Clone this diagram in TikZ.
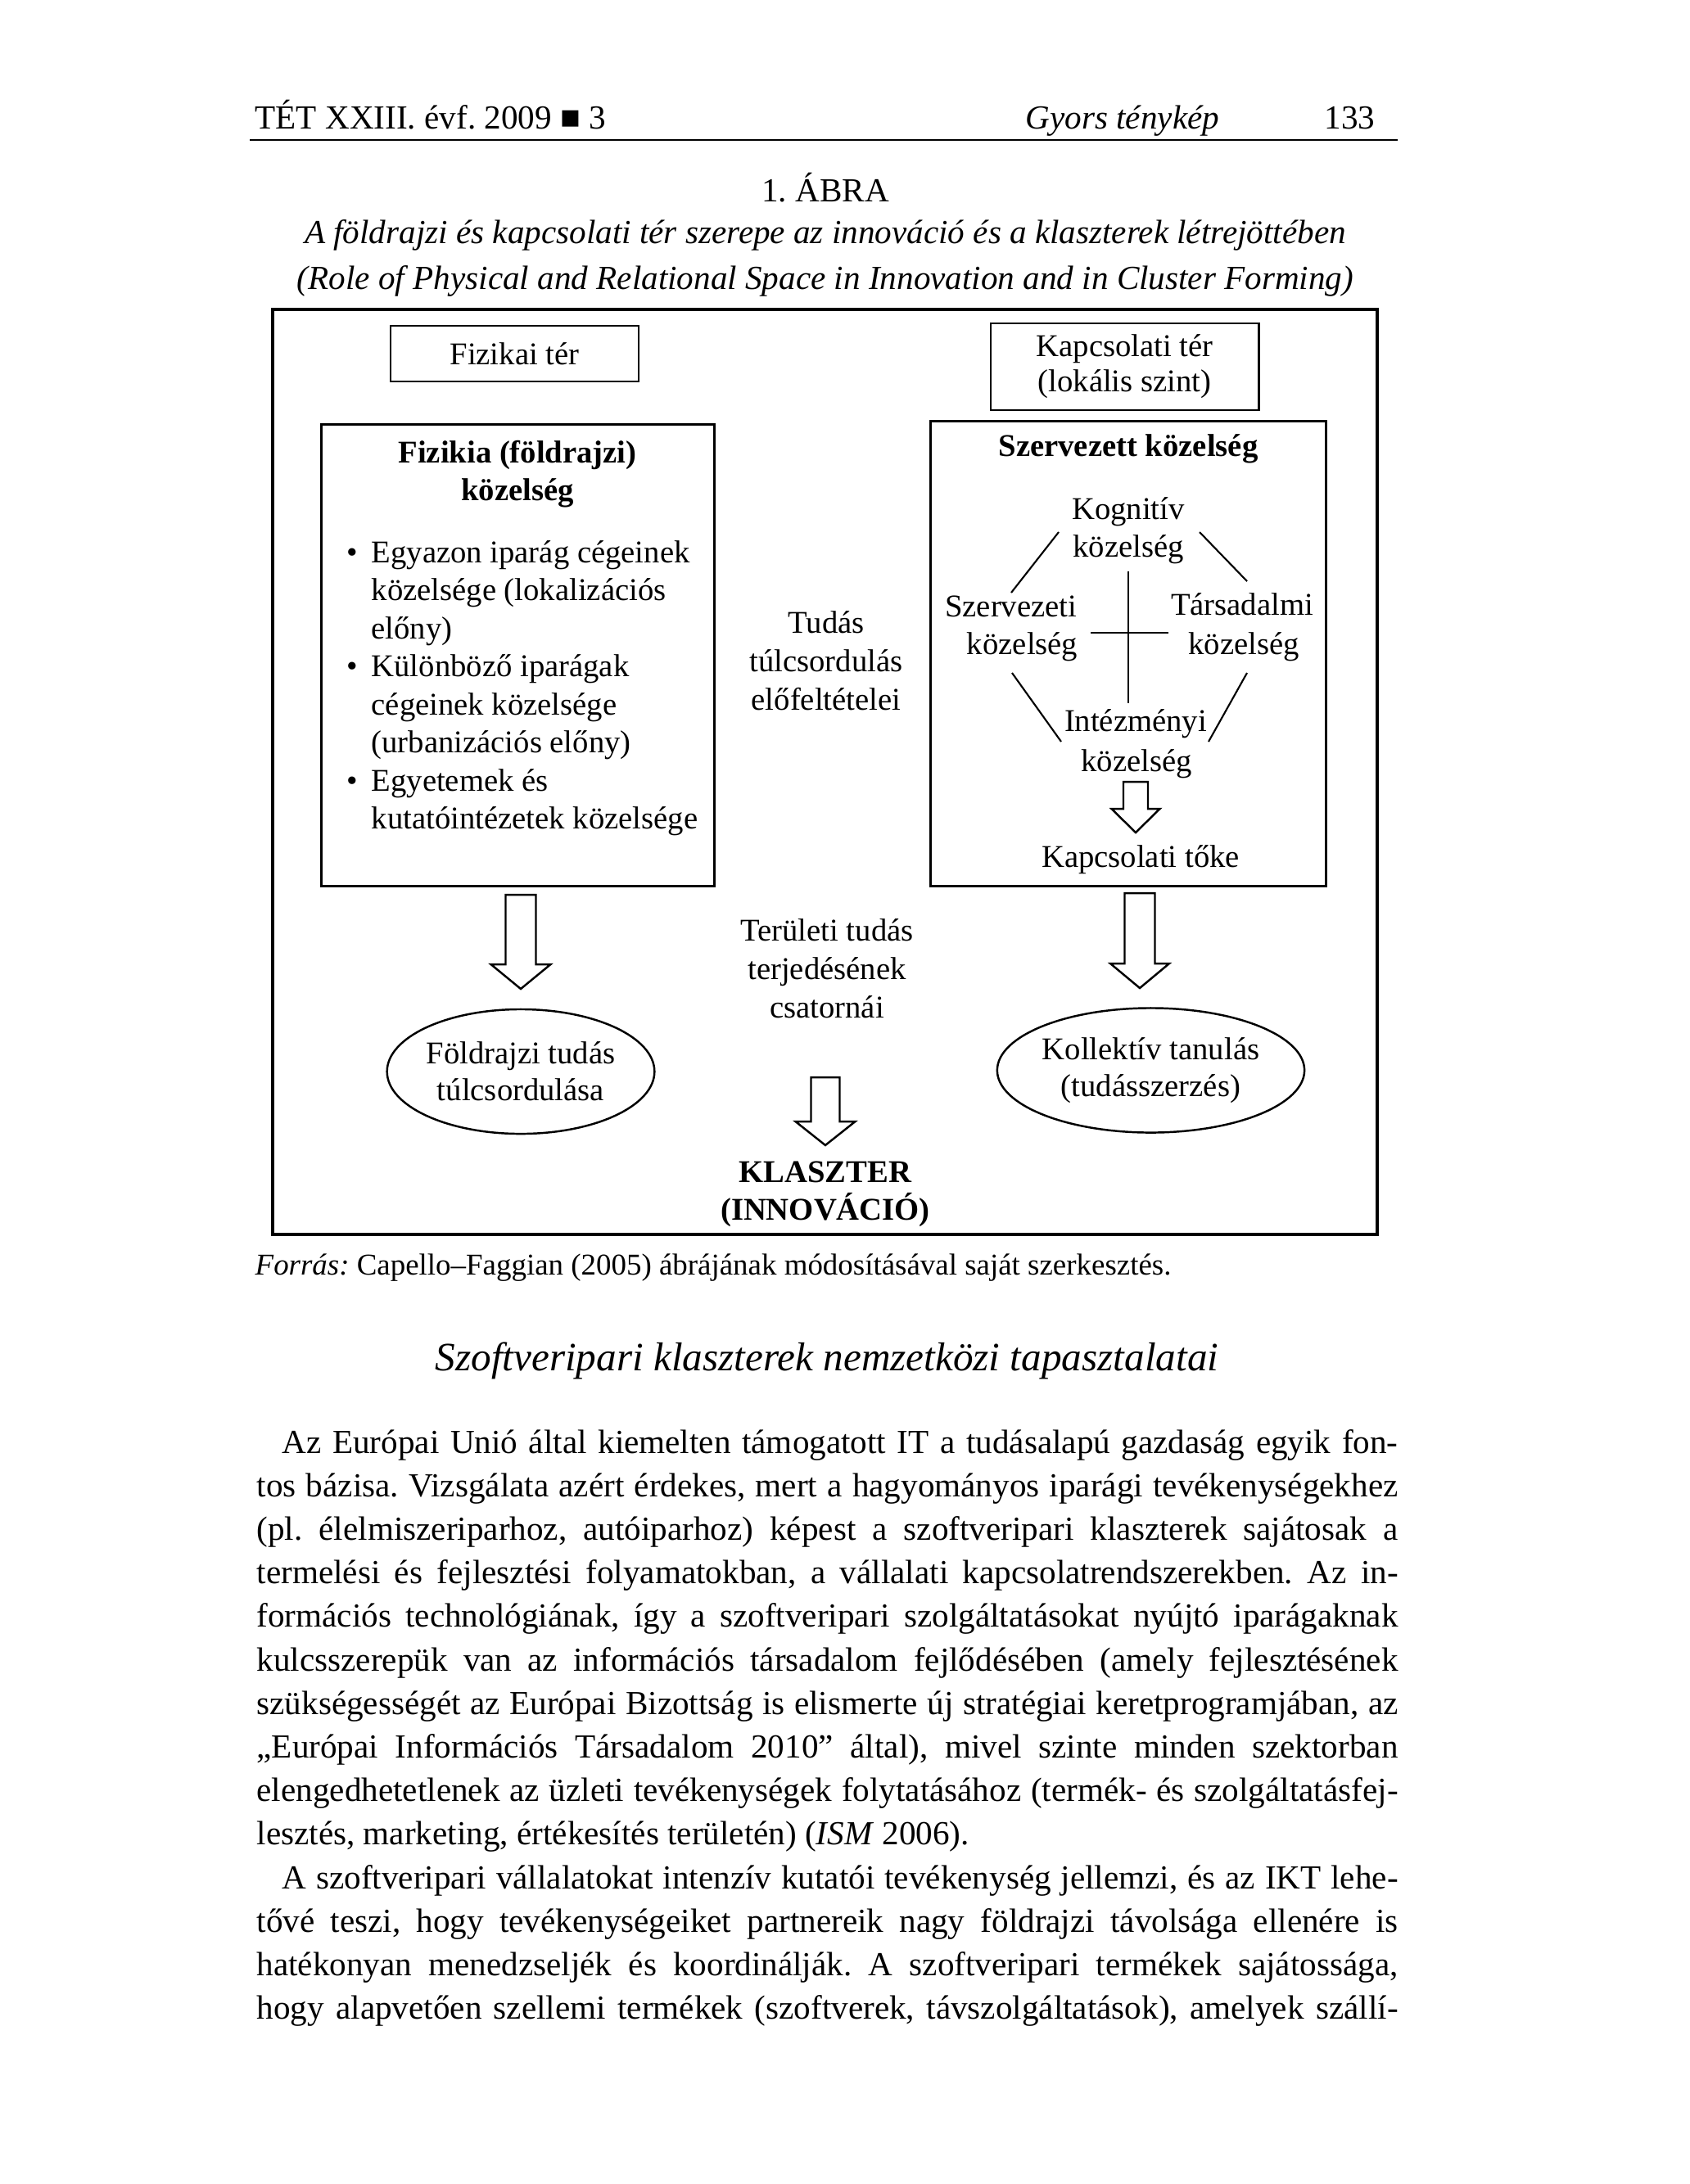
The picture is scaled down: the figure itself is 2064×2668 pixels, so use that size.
\documentclass[tikz,border=0pt]{standalone}
\usepackage{fontspec}
\setmainfont{Liberation Serif}
\usetikzlibrary{shapes.geometric}
\newcommand{\jstline}[2]{\makebox[#1][s]{#2}}
\frenchspacing
\begin{document}
\frenchspacing
\begin{tikzpicture}[x=0.01cm,y=-0.01cm,
  txt/.style={inner sep=0, anchor=base, font=\fontsize{11}{13}\selectfont},
  btxt/.style={inner sep=0, anchor=base, font=\fontsize{11}{13}\selectfont\bfseries},
  pagetxt/.style={inner sep=0, anchor=base, font=\fontsize{11.7}{14}\selectfont},
  bodyline/.style={inner sep=0, anchor=base west, font=\fontsize{11.7}{14}\selectfont},
  boxshape/.style={draw, line width=0.8pt, inner sep=0, rectangle},
  thinline/.style={line width=0.6pt},
  hollow/.style={draw, line width=0.7pt, fill=white, line join=miter},
  ell/.style={ellipse, draw, line width=0.7pt, inner sep=0, align=center,
    minimum width=3.14cm, minimum height=1.52cm, font=\fontsize{11}{12.8}\selectfont}]
\fill[white] (0,0) rectangle (2064,2668);
\useasboundingbox (0,0) rectangle (2064,2668);

% ---------- running head ----------
\node[pagetxt, anchor=base west] (hdrL) at (311,157) {TÉT XXIII. évf. 2009 ■ 3};
\node[pagetxt, anchor=base west, font=\fontsize{11.7}{14}\selectfont\itshape] (hdrM) at (1252,157) {Gyors ténykép};
\node[pagetxt, anchor=base east] (hdrR) at (1680,157) {133};
\draw[line width=0.8pt] (305,171) -- (1707,171);

% ---------- caption ----------
\node[pagetxt] (fignum) at (1008,246) {1. ÁBRA};
\node[pagetxt, font=\fontsize{11.7}{14}\selectfont\itshape] (cap1) at (1008,297) {A földrajzi és kapcsolati tér szerepe az innováció és a klaszterek létrejöttében};
\node[pagetxt, font=\fontsize{11.7}{14}\selectfont\itshape] (cap2) at (1008,353) {(Role of Physical and Relational Space in Innovation and in Cluster Forming)};

% ---------- frame ----------
\draw[line width=1pt] (333,378) rectangle (1682,1508);

% ---------- top boxes ----------
\node[boxshape, minimum width=3.03cm, minimum height=0.68cm, font=\fontsize{11}{13}\selectfont] (fizbox) at (628.5,432) {Fizikai tér};
\node[boxshape, minimum width=3.27cm, minimum height=1.06cm, align=center, font=\fontsize{11}{12.2}\selectfont] (kapbox) at (1373.5,448) {Kapcsolati tér\\(lokális szint)};

% ---------- big boxes ----------
\node[boxshape, minimum width=4.79cm, minimum height=5.63cm] (leftbox) at (632.5,800.5) {};
\node[boxshape, minimum width=4.82cm, minimum height=5.67cm] (rightbox) at (1378,798.5) {};

% left box content
\node[btxt] (lt1) at (632,565) {Fizikia (földrajzi)};
\node[btxt] (lt2) at (632,611) {közelség};
\node[txt, anchor=base west] (b1) at (453,687) {\llap{\textbullet\hspace{4.8pt}}Egyazon iparág cégeinek};
\node[txt, anchor=base west] (b2) at (453,733.5) {közelsége (lokalizációs};
\node[txt, anchor=base west] (b3) at (453,780) {előny)};
\node[txt, anchor=base west] (b4) at (453,826.5) {\llap{\textbullet\hspace{4.8pt}}Különböző iparágak};
\node[txt, anchor=base west] (b5) at (453,873) {cégeinek közelsége};
\node[txt, anchor=base west] (b6) at (453,919.5) {(urbanizációs előny)};
\node[txt, anchor=base west] (b7) at (453,966) {\llap{\textbullet\hspace{4.8pt}}Egyetemek és};
\node[txt, anchor=base west] (b8) at (453,1012.5) {kutatóintézetek közelsége};

% middle column
\node[txt] (tu1) at (1009,773) {Tudás};
\node[txt] (tu2) at (1009,820) {túlcsordulás};
\node[txt] (tu3) at (1009,867) {előfeltételei};

% right box content
\node[btxt] (rt) at (1378,557) {Szervezett közelség};
\node[txt] (kog1) at (1378,634) {Kognitív};
\node[txt] (kog2) at (1378,680) {közelség};
\node[txt, anchor=base east] (sz1) at (1316,753) {Szervezeti};
\node[txt, anchor=base east] (sz2) at (1317,799) {közelség};
\node[txt] (ta1) at (1517,751) {Társadalmi};
\node[txt] (ta2) at (1519,799) {közelség};
\node[txt] (in1) at (1387,893) {Intézményi};
\node[txt] (in2) at (1388,942) {közelség};
\node[txt] (ktoke) at (1393,1059) {Kapcsolati tőke};

\draw[thinline] (1293,650) -- (1235,724);
\draw[thinline] (1465,650) -- (1523,710);
\draw[thinline] (1236,822) -- (1296,906);
\draw[thinline] (1523,822) -- (1476,906);
\draw[thinline] (1378,698) -- (1378,859);
\draw[thinline] (1332,773) -- (1427,773);

% small hollow arrow to Kapcsolati toke
\draw[hollow] (1372,955) -- (1402,955) -- (1402,988) -- (1416.5,988) -- (1387,1017) -- (1357.5,988) -- (1372,988) -- cycle;

% ---------- lower part ----------
\draw[hollow] (617.5,1093) -- (654.5,1093) -- (654.5,1178) -- (672.5,1178) -- (636,1208) -- (599.5,1178) -- (617.5,1178) -- cycle;
\draw[hollow] (1373.5,1091) -- (1410.5,1091) -- (1410.5,1177) -- (1428,1177) -- (1392,1207) -- (1356,1177) -- (1373.5,1177) -- cycle;

\node[ell] (geo) at (636,1309) {Földrajzi tudás\\túlcsordulása};
\node[ell] (koll) at (1405.5,1307.5) {Kollektív tanulás\\(tudásszerzés)};

\node[txt] (te1) at (1010,1149) {Területi tudás};
\node[txt] (te2) at (1010,1196) {terjedésének};
\node[txt] (te3) at (1010,1243) {csatornái};

\draw[hollow] (990.5,1316) -- (1025.5,1316) -- (1025.5,1370) -- (1044.5,1370) -- (1008,1399) -- (971.5,1370) -- (990.5,1370) -- cycle;

\node[btxt] (kl1) at (1008,1444) {KLASZTER};
\node[btxt] (kl2) at (1008,1490) {(INNOVÁCIÓ)};

% ---------- source ----------
\node[inner sep=0, anchor=base west, font=\fontsize{10.5}{12.6}\selectfont] (src) at (311,1557) {\textit{Forrás:} Capello–Faggian (2005) ábrájának módosításával saját szerkesztés.};

% ---------- section heading ----------
\node[inner sep=0, anchor=base, font=\fontsize{14}{17}\selectfont\itshape] (sect) at (1010,1674) {Szoftveripari klaszterek nemzetközi tapasztalatai};

% ---------- body text ----------
\node[bodyline] (l1) at (344,1775) {\jstline{13.62cm}{Az Európai Unió által kiemelten támogatott IT a tudásalapú gazdaság egyik fon-}};
\node[bodyline] (l2) at (313,1828.2) {\jstline{13.93cm}{tos bázisa. Vizsgálata azért érdekes, mert a hagyományos iparági tevékenységekhez}};
\node[bodyline] (l3) at (313,1881.4) {\jstline{13.93cm}{(pl. élelmiszeriparhoz, autóiparhoz) képest a szoftveripari klaszterek sajátosak a}};
\node[bodyline] (l4) at (313,1934.6) {\jstline{13.93cm}{termelési és fejlesztési folyamatokban, a vállalati kapcsolatrendszerekben. Az in-}};
\node[bodyline] (l5) at (313,1987.8) {\jstline{13.93cm}{formációs technológiának, így a szoftveripari szolgáltatásokat nyújtó iparágaknak}};
\node[bodyline] (l6) at (313,2041) {\jstline{13.93cm}{kulcsszerepük van az információs társadalom fejlődésében (amely fejlesztésének}};
\node[bodyline] (l7) at (313,2094.2) {\jstline{13.93cm}{szükségességét az Európai Bizottság is elismerte új stratégiai keretprogramjában, az}};
\node[bodyline] (l8) at (313,2147.4) {\jstline{13.93cm}{„Európai Információs Társadalom 2010” által), mivel szinte minden szektorban}};
\node[bodyline] (l9) at (313,2200.6) {\jstline{13.93cm}{elengedhetetlenek az üzleti tevékenységek folytatásához (termék- és szolgáltatásfej-}};
\node[bodyline] (l10) at (313,2253.8) {lesztés, marketing, értékesítés területén) (\textit{ISM} 2006).};
\node[bodyline] (l11) at (344,2307) {\jstline{13.62cm}{A szoftveripari vállalatokat intenzív kutatói tevékenység jellemzi, és az IKT lehe-}};
\node[bodyline] (l12) at (313,2360.2) {\jstline{13.93cm}{tővé teszi, hogy tevékenységeiket partnereik nagy földrajzi távolsága ellenére is}};
\node[bodyline] (l13) at (313,2413.4) {\jstline{13.93cm}{hatékonyan menedzseljék és koordinálják. A szoftveripari termékek sajátossága,}};
\node[bodyline] (l14) at (313,2466.6) {\jstline{13.93cm}{hogy alapvetően szellemi termékek (szoftverek, távszolgáltatások), amelyek szállí-}};
\end{tikzpicture}
\end{document}
